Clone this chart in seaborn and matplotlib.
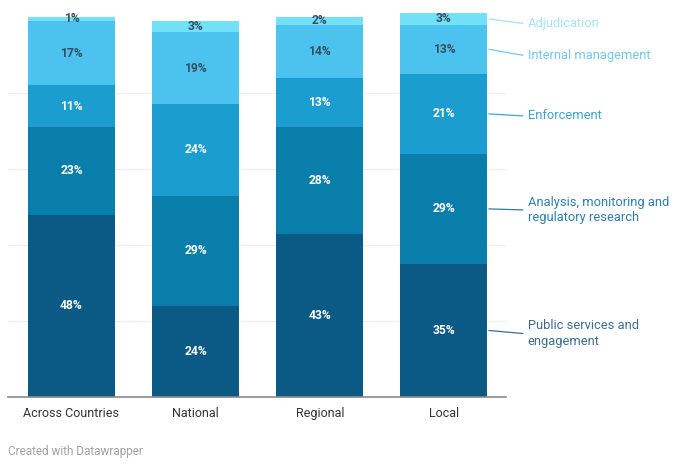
import matplotlib
matplotlib.use("Agg")
import matplotlib.pyplot as plt
import seaborn as sns
import numpy as np

# Share of activity by function, per level of government (%)
levels = ["Across Countries", "National", "Regional", "Local"]
public_services = [48, 24, 43, 35]
analysis = [23, 29, 28, 29]
enforcement = [11, 24, 13, 21]
internal_mgmt = [17, 19, 14, 13]
adjudication = [1, 3, 2, 3]

series_names = [
    "Public services and\nengagement",
    "Analysis, monitoring and\nregulatory research",
    "Enforcement",
    "Internal management",
    "Adjudication",
]
series_values = [public_services, analysis, enforcement, internal_mgmt, adjudication]

bar_colors = ["#0b5985", "#0a7eab", "#1c9dd0", "#4cc2ee", "#72e0f7"]
label_colors = ["#3c6c92", "#2d7db0", "#3ea3d8", "#72c8ec", "#a6e2f2"]
value_text_colors = ["white", "white", "white", "#34505f", "#34505f"]

sns.set_theme(style="white")
plt.rcParams["font.family"] = ["Roboto", "DejaVu Sans"]

fig = plt.figure(figsize=(6.87, 4.67), dpi=100)
ax = fig.add_axes([8 / 687, 1 - 397 / 467, (506 - 8) / 687, (397 - 17) / 467])

# faint horizontal gridlines
for g in [20, 40, 60, 80]:
    ax.axhline(g, color="#ededed", lw=0.8, zorder=0)

bar_w = 0.70
bottoms = np.zeros(len(levels))
for name, vals, col, tcol in zip(series_names, series_values, bar_colors, value_text_colors):
    vals = np.array(vals, dtype=float)
    sns.barplot(x=levels, y=vals, bottom=bottoms, color=col, width=bar_w,
                saturation=1, ax=ax, zorder=2, clip_on=False,
                linewidth=0, edgecolor=col)
    for i, (b, v) in enumerate(zip(bottoms, vals)):
        ax.text(i, b + v / 2, f"{int(v)}%", ha="center", va="center",
                fontsize=8.7, fontweight="semibold", color=tcol, zorder=3)
    bottoms = bottoms + vals

# series labels to the right of the last bar
last = len(levels) - 1
cum = 0.0
label_shift = [-3, -1, -2, -6, -4.5]  # small vertical offsets in pixels
px_per_unit = 380 / 100
for name, vals, lcol, dy in zip(series_names, series_values, label_colors, label_shift):
    v = vals[last]
    mid = cum + v / 2
    cum += v
    y0 = mid
    y1 = mid + dy / px_per_unit
    ax.plot([last + 0.362, last + 0.636], [y0, y1], color=lcol, lw=0.9,
            clip_on=False, zorder=3)
    ax.text(last + 0.676, y1, name, ha="left", va="center", fontsize=9.3,
            color=lcol, linespacing=1.25)

ax.set_xlim(-0.511, 3.5)
ax.set_ylim(0, 100)
ax.set_yticks([])
ax.set_xlabel("")
ax.set_ylabel("")
for s in ["top", "right", "left"]:
    ax.spines[s].set_visible(False)
ax.spines["bottom"].set_color("#8a8a8a")
ax.spines["bottom"].set_linewidth(1.2)
ax.spines["bottom"].set_zorder(4)
ax.tick_params(axis="x", length=0, pad=7, labelsize=9.0, labelcolor="#333333")

fig.text(8 / 687, 1 - 452 / 467, "Created with Datawrapper", fontsize=8.5,
         color="#a3a3a3", ha="left", va="center")

fig.savefig("out.png", dpi=100, facecolor="white")
